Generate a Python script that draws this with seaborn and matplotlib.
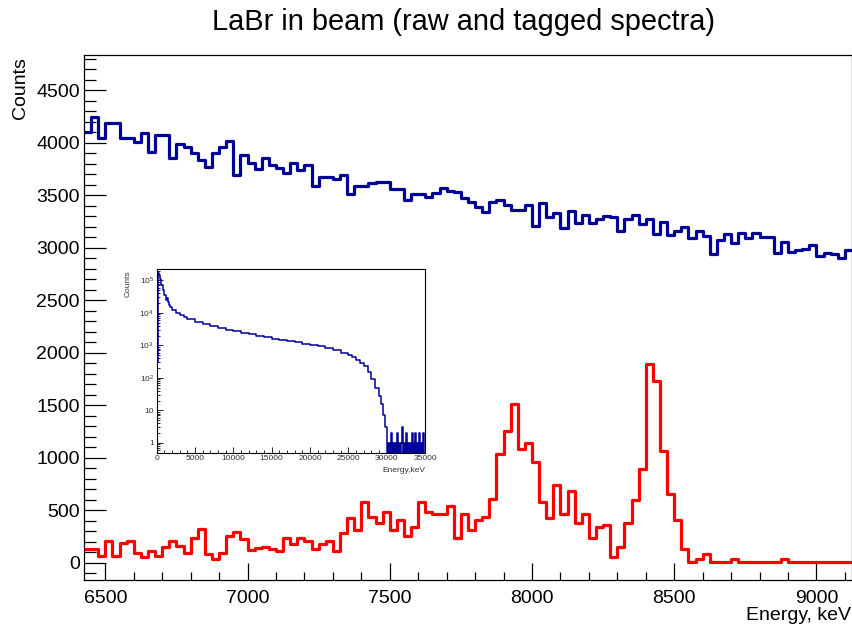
import numpy as np
import pandas as pd
import matplotlib
matplotlib.use("Agg")
import matplotlib.pyplot as plt
import seaborn as sns
from matplotlib.ticker import MultipleLocator, FixedLocator, FixedFormatter, LogLocator, NullFormatter

# ---------------- data ----------------
bin_start = 6425          # keV, left edge of first bin
bin_width = 25            # keV

raw_counts = [
    4108, 4244, 4044, 4187, 4187, 4050, 4050, 4010, 4095, 3911,
    4076, 4076, 3854, 3990, 3965, 3902, 3838, 3775, 3902, 3965,
    4019, 3695, 3886, 3806, 3749, 3854, 3790, 3759, 3711, 3806,
    3743, 3790, 3590, 3673, 3673, 3657, 3695, 3511, 3590, 3590,
    3616, 3632, 3632, 3559, 3559, 3457, 3511, 3511, 3489, 3527,
    3568, 3546, 3535, 3480, 3435, 3394, 3346, 3441, 3457, 3410,
    3362, 3362, 3410, 3213, 3425, 3298, 3336, 3194, 3356, 3241,
    3314, 3235, 3273, 3308, 3292, 3162, 3276, 3314, 3229, 3273,
    3133, 3245, 3124, 3165, 3203, 3092, 3162, 3114, 2943, 3076,
    3133, 3044, 3140, 3092, 3140, 3102, 3102, 2949, 3060, 2965,
    2981, 2990, 3029, 2924, 2956, 2943, 2902, 2981,
]

tagged_counts = [
    130, 130, 67, 210, 67, 187, 213, 92, 60, 117,
    67, 156, 213, 162, 92, 235, 321, 86, 38, 92,
    257, 292, 229, 124, 140, 156, 130, 117, 235, 181,
    235, 213, 130, 181, 213, 117, 289, 432, 314, 584,
    435, 384, 489, 314, 410, 257, 346, 584, 489, 467,
    467, 543, 235, 464, 318, 410, 441, 610, 1035, 1260,
    1514, 1086, 1140, 965, 584, 432, 743, 464, 689, 378,
    464, 235, 346, 362, 60, 156, 384, 600, 892, 1895,
    1737, 1067, 657, 410, 133, 8, 35, 90, 8, 8,
    8, 35, 8, 8, 8, 8, 8, 8, 35, 8,
    8, 8, 8, 8, 8, 8, 8, 8,
]

# inset: full raw spectrum (coarsely read)
inset_edges = [0, 60, 120, 200, 300, 400, 500, 600, 800, 1000, 1200, 1400, 1500,
               1600, 1800, 2000, 2500, 3000, 3500, 4000, 5000, 6000, 7000, 8000,
               9000, 10000, 11000, 12000, 13000, 14000, 15000, 16000, 17000, 18000,
               19000, 20000, 21000, 22000, 23000, 24000, 25000, 25500, 26000, 26500,
               27000, 27500, 28000, 28500, 29000, 29250, 29500, 29750, 30000]
inset_counts = [0, 300, 40000, 170000, 150000, 110000, 90000, 70000, 52000, 35000,
                25000, 28000, 21000, 18000, 15000, 12000, 10000, 8500, 7400, 6300,
                5200, 4500, 3900, 3400, 3000, 2750, 2450, 2250, 2000, 1780,
                1620, 1510, 1380, 1260, 1120, 1020, 930, 830, 720, 600,
                500, 430, 355, 295, 225, 150, 90, 48, 28, 16, 7, 3]
tail_start = 30000
tail_width = 125
tail_counts = [0, 1, 0, 1, 0, 2, 0, 1, 0, 1, 0, 2, 0, 1, 0, 1, 3, 0, 1, 0,
               2, 0, 1, 0, 1, 0, 2, 0, 1, 0, 2, 0, 1, 0, 2, 0, 1, 0, 2, 0]

title = "LaBr in beam (raw and tagged spectra)"
xlabel = "Energy, keV"
ylabel = "Counts"

# ---------------- style ----------------
sns.set_theme(style="white")
plt.rcParams['font.family'] = ['Liberation Sans', 'DejaVu Sans']
plt.rcParams['mathtext.fontset'] = 'custom'
plt.rcParams['mathtext.rm'] = 'Liberation Sans'
plt.rcParams['mathtext.it'] = 'Liberation Sans'

W, H = 852, 626
fig = plt.figure(figsize=(W / 100, H / 100), dpi=100)
fig.patch.set_facecolor('white')

# main axes
ax = fig.add_axes([84 / W, 1 - 580 / H, (852 - 84) / W, (580 - 55) / H])

edges = [bin_start + bin_width * i for i in range(len(raw_counts) + 1)]
centers = [bin_start + bin_width * (i + 0.5) for i in range(len(raw_counts))]
df = pd.DataFrame({'energy': centers, 'raw': raw_counts, 'tagged': tagged_counts})

sns.histplot(data=df, x='energy', weights='raw', bins=edges, element='step',
             fill=False, color='#000099', linewidth=2.3, ax=ax)
sns.histplot(data=df, x='energy', weights='tagged', bins=edges, element='step',
             fill=False, color='#ff0000', linewidth=2.3, ax=ax)

ax.set_xlim(6425, 9125)
ax.set_ylim(-162, 4838)
ax.set_xlabel('')
ax.set_ylabel('')
ax.xaxis.set_major_locator(MultipleLocator(500))
ax.xaxis.set_minor_locator(MultipleLocator(100))
ax.yaxis.set_major_locator(FixedLocator([0, 500, 1000, 1500, 2000, 2500, 3000, 3500, 4000, 4500]))
ax.yaxis.set_minor_locator(MultipleLocator(100))
ax.tick_params(which='both', direction='in', bottom=True, left=True, top=False, right=False,
               colors='black', labelsize=14, width=0.9)
ax.tick_params(axis='y', which='major', length=16, pad=3)
ax.tick_params(axis='y', which='minor', length=8.5)
ax.tick_params(axis='x', which='major', length=12.5, pad=7)
ax.tick_params(axis='x', which='minor', length=6)
for s in ax.spines.values():
    s.set_color('black')
    s.set_linewidth(0.9)

fig.text(463 / W, 1 - 22 / H, title, ha='center', va='center', fontsize=20.9, color='black')
fig.text(20.5 / W, 1 - 57 / H, ylabel, rotation=90, ha='center', va='top', fontsize=14, color='black')
fig.text(851 / W, 1 - 615 / H, xlabel, ha='right', va='center', fontsize=14, color='black')

# inset
iax = fig.add_axes([156.7 / W, 1 - 452.7 / H, (425 - 156.7) / W, (452.7 - 269.3) / H])
iax.set_facecolor('white')
full_edges = list(inset_edges) + [tail_start + tail_width * i for i in range(1, len(tail_counts) + 1)]
full_counts = list(inset_counts) + list(tail_counts)
full_centers = [(a + b) / 2 for a, b in zip(full_edges[:-1], full_edges[1:])]
idf = pd.DataFrame({'energy': full_centers, 'counts': full_counts})
sns.histplot(data=idf, x='energy', weights='counts', bins=full_edges, element='step',
             fill=False, color='#000099', linewidth=1.1, ax=iax)
iax.set_yscale('log')
iax.set_xlim(0, 35000)
iax.set_ylim(0.5, 2.2e5)
iax.set_xlabel('')
iax.set_ylabel('')
iax.xaxis.set_major_locator(MultipleLocator(5000))
iax.xaxis.set_minor_locator(MultipleLocator(1000))
iax.yaxis.set_major_locator(FixedLocator([1, 10, 100, 1e3, 1e4, 1e5]))
iax.yaxis.set_major_formatter(FixedFormatter(['1', '10', '$10^{2}$', '$10^{3}$', '$10^{4}$', '$10^{5}$']))
iax.yaxis.set_minor_locator(LogLocator(base=10, subs=np.arange(2, 10), numticks=20))
iax.yaxis.set_minor_formatter(NullFormatter())
iax.tick_params(which='both', direction='in', bottom=True, left=True, top=False, right=False,
                colors='black', labelcolor='#333333', labelsize=6, width=0.6)
iax.tick_params(which='major', length=4, pad=2)
iax.tick_params(which='minor', length=2)
for s in iax.spines.values():
    s.set_color('black')
    s.set_linewidth(0.8)
fig.text(425 / W, 1 - 471 / H, 'Energy,keV', ha='right', va='center', fontsize=6, color='#333333')
fig.text(128 / W, 1 - 270 / H, 'Counts', rotation=90, ha='center', va='top', fontsize=6, color='#333333')

fig.savefig('out.png', dpi=100, facecolor='white')
